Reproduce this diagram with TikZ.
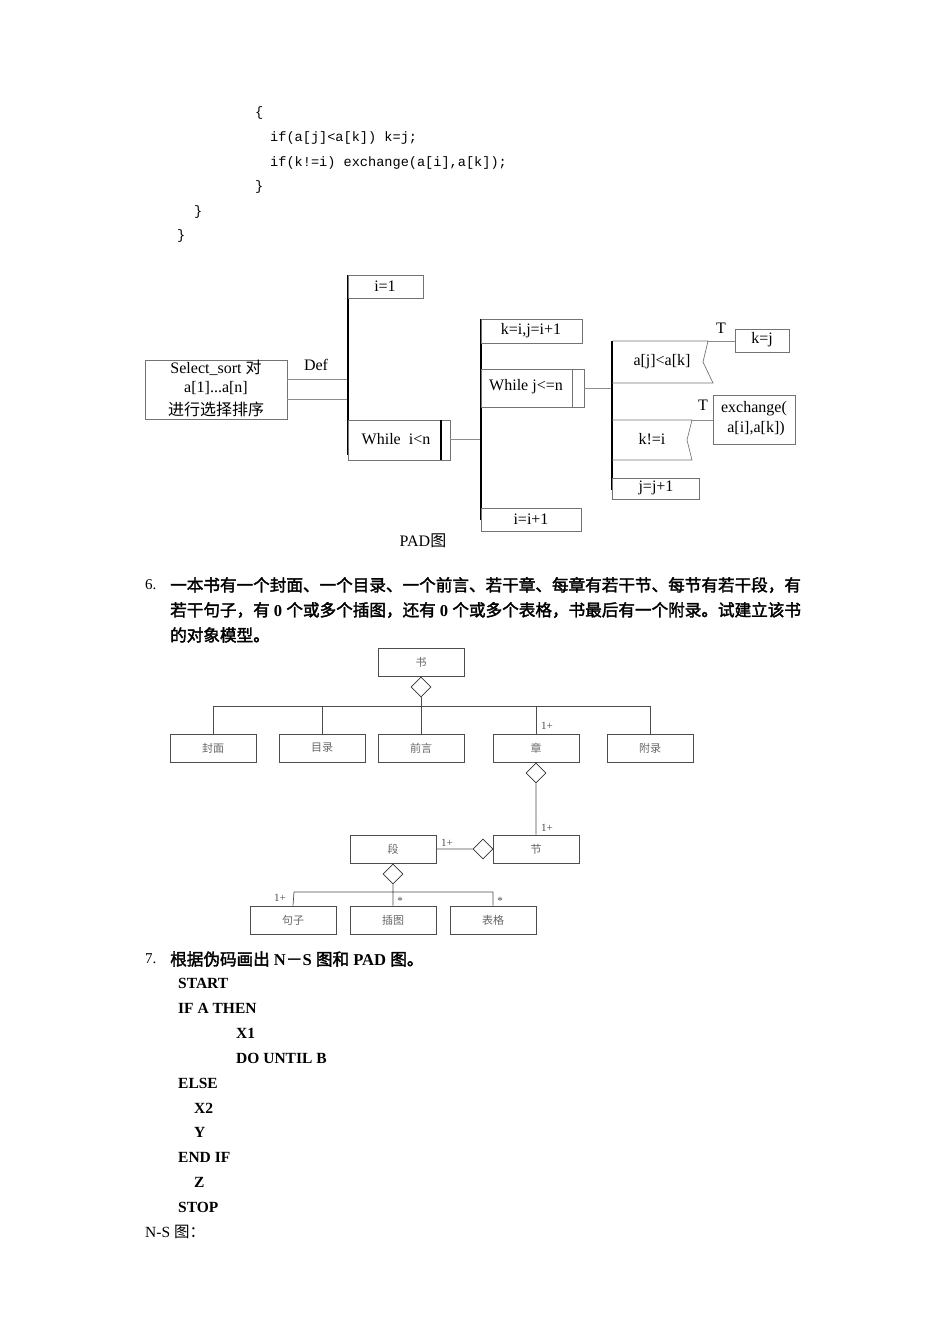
\documentclass[tikz,border=0pt]{standalone}
\usepackage{fontspec}
\setmainfont{Liberation Serif}
\setmonofont{Liberation Mono}
\newfontfamily\cjk{Noto Sans CJK SC}
\newfontfamily\cjkb[FakeBold=2]{Noto Sans CJK SC}
\usetikzlibrary{shapes.geometric}
\begin{document}
\begin{tikzpicture}[x=1pt,y=-1pt,
  pbox/.style={draw=black!55,line width=0.7pt},
  ln/.style={draw=black!45,line width=0.6pt},
  thick/.style={draw=black,line width=1.4pt},
  pt/.style={font=\fontsize{16}{16}\selectfont,inner sep=0pt},
  code/.style={anchor=west,inner sep=0pt,font=\ttfamily\fontsize{13.6}{14}\selectfont},
  bt/.style={anchor=west,inner sep=0pt,font=\bfseries\fontsize{15.5}{16}\selectfont},
  ob/.style={draw=black!70,line width=0.7pt,minimum width=86pt,minimum height=28pt,inner sep=0pt,font=\cjk\fontsize{11}{11}\selectfont\color{black!60}},
  dia/.style={draw=black!80,fill=white,diamond,minimum width=20pt,minimum height=20pt,inner sep=0pt,line width=0.7pt},
  ml/.style={inner sep=0pt,font=\fontsize{11}{11}\selectfont\color{black!70}}]
\useasboundingbox (0,0) rectangle (950,1344);
% code
\node[code] (c1) at (255,113) {\{};
\node[code] (c2) at (270,138) {if(a[j]<a[k]) k=j;};
\node[code] (c3) at (270,163) {if(k!=i) exchange(a[i],a[k]);};
\node[code] (c4) at (255,187) {\}};
\node[code] (c5) at (194,212) {\}};
\node[code] (c6) at (177,236) {\}};
% PAD
\draw[pbox] (145,360) rectangle (287,419);
\node[pt] (sel1) at (216,368) {Select\_sort {\cjk 对}};
\node[pt] (sel2) at (216,388) {a[1]...a[n]};
\node[pt] (sel3) at (216,409) {\cjk 进行选择排序};
\draw[ln] (287,379) -- (348,379);
\draw[ln] (287,399) -- (348,399);
\node[pt] (def) at (316,365) {Def};
\draw[thick] (348,275) -- (348,455);
\draw[pbox] (348,275) rectangle (423,298);
\node[pt] (i1) at (385,286) {i=1};
\draw[pbox] (348,420) rectangle (450,460);
\draw[thick] (441,420) -- (441,460);
\node[pt] (wi) at (396,439) {While\ \ i<n};
\draw[ln] (450,439) -- (481,439);
\draw[thick] (481,319) -- (481,520);
\draw[pbox] (481,319) rectangle (582,343);
\node[pt] (kij) at (531,331) {k=i,j=i+1};
\draw[pbox] (481,369) rectangle (584,407);
\draw[pbox] (572,369) -- (572,407);
\node[pt] (wj) at (526,387) {While j<=n};
\draw[ln] (584,388) -- (612,388);
\draw[pbox] (481,508) rectangle (581,531);
\node[pt] (ii) at (531,519) {i=i+1};
\draw[thick] (612,341) -- (612,490);
\draw[pbox] (612,341) -- (708,341) -- (703,362) -- (713,383) -- (612,383);
\draw[ln] (708,341) -- (735,341);
\draw[pbox] (735,329) rectangle (789,352);
\node[pt] (kj) at (762,340) {k=j};
\node[pt] (t1) at (721,328) {T};
\node[pt] (ajk) at (662,362) {a[j]<a[k]};
\draw[pbox] (612,420) -- (692,420) -- (687,440) -- (692,460) -- (612,460);
\draw[ln] (692,420) -- (713,420);
\draw[pbox] (713,395) rectangle (795,444);
\node[pt,align=center] (ex) at (754,419) {exchange(\\[4pt]\ a[i],a[k])};
\node[pt] (t2) at (703,405) {T};
\node[pt] (kni) at (652,439) {k!=i};
\draw[pbox] (612,478) rectangle (699,499);
\node[pt] (jj) at (656,488) {j=j+1};
\node[pt] (padc) at (423,541) {PAD{\cjk 图}};
% question 6
\node[anchor=west,inner sep=0pt,font=\fontsize{15}{15}\selectfont] (q6) at (145,585) {6.};
\node[anchor=west,inner sep=0pt,font=\cjkb\fontsize{16.6}{17}\selectfont] (q6a) at (170,585) {一本书有一个封面、一个目录、一个前言、若干章、每章有若干节、每节有若干段，有};
\node[anchor=west,inner sep=0pt,font=\cjkb\fontsize{16.6}{17}\selectfont] (q6b) at (170,610) {若干句子，有{\bfseries\rmfamily\ 0 }个或多个插图，还有{\bfseries\rmfamily\ 0 }个或多个表格，书最后有一个附录。试建立该书};
\node[anchor=west,inner sep=0pt,font=\cjkb\fontsize{16.6}{17}\selectfont] (q6c) at (170,635) {的对象模型。};
% object model
\node[ob] (shu) at (421,662) {书};
\node[ob] (fm) at (213,748) {封面};
\node[ob] (ml) at (322,748) {目录};
\node[ob] (qy) at (421,748) {前言};
\node[ob] (zh) at (536,748) {章};
\node[ob] (fl) at (650,748) {附录};
\node[ob] (jie) at (536,849) {节};
\node[ob] (duan) at (393,849) {段};
\node[ob] (jz) at (293,920) {句子};
\node[ob] (ct) at (393,920) {插图};
\node[ob] (bg) at (493,920) {表格};
\node[dia] (d1) at (421,687) {};
\node[dia] (d2) at (536,773) {};
\node[dia] (d3) at (483,849) {};
\node[dia] (d4) at (393,874) {};
\coordinate (hl) at (213,706); \coordinate (hr) at (650,706);
\draw[black!70,line width=0.7pt] (d1.south) -- (421,706) (hl) -- (hr)
  (hl) -- (fm.north) (322,706) -- (ml.north) (421,706) -- (qy.north)
  (536,706) -- (zh.north) (hr) -- (fl.north);
\draw[black!70,line width=0.7pt] (d2.south) -- (jie.north) (duan.east) -- (d3.west)
  (d4.south) -- (393,892) (294,892) -- (493,892) (294,892) -- (jz.north) (393,892) -- (ct.north) (493,892) -- (bg.north);
\node[ml] (m1) at (547,726) {1+};
\node[ml] (m2) at (547,828) {1+};
\node[ml] (m3) at (447,843) {1+};
\node[ml] (m4) at (280,898) {1+};
\node[ml] (m5) at (400,901) {*};
\node[ml] (m6) at (500,901) {*};
% question 7
\node[anchor=west,inner sep=0pt,font=\fontsize{15}{15}\selectfont] (q7) at (145,959) {7.};
\node[anchor=west,inner sep=0pt,font=\cjkb\fontsize{16.6}{17}\selectfont] (q7a) at (170,959) {根据伪码画出{\bfseries\rmfamily\ N}－{\bfseries\rmfamily S }图和{\bfseries\rmfamily\ PAD }图。};
\node[bt] (l1) at (178,983) {START};
\node[bt] (l2) at (178,1008) {IF A THEN};
\node[bt] (l3) at (236,1033) {X1};
\node[bt] (l4) at (236,1058) {DO UNTIL B};
\node[bt] (l5) at (178,1083) {ELSE};
\node[bt] (l6) at (194,1108) {X2};
\node[bt] (l7) at (194,1132) {Y};
\node[bt] (l8) at (178,1157) {END IF};
\node[bt] (l9) at (194,1182) {Z};
\node[bt] (l10) at (178,1207) {STOP};
\node[anchor=west,inner sep=0pt,font=\fontsize{15.5}{16}\selectfont] (ns) at (145,1232) {N-S {\cjk 图：}};
\end{tikzpicture}
\end{document}
